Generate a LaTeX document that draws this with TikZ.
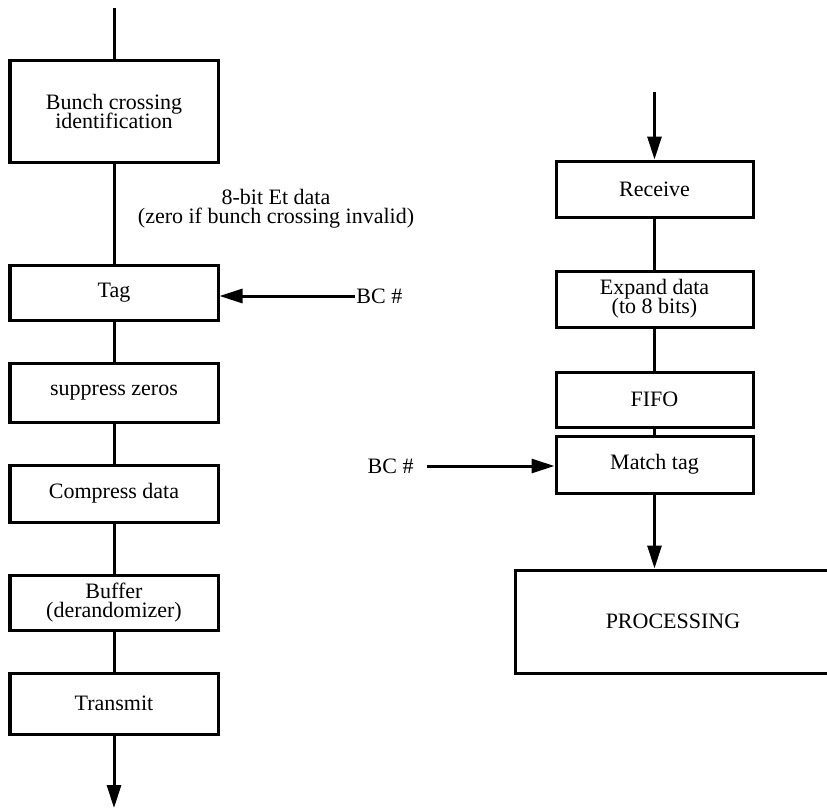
\documentclass[tikz,border=0pt]{standalone}
\usepackage{fontspec}
\setmainfont{Liberation Serif}
\usepackage{tikz}
\usetikzlibrary{arrows.meta,positioning,calc}

\begin{document}
\begin{tikzpicture}[x=0.5pt, y=-0.5pt, line width=1.5pt,
    every node/.style={font=\fontsize{11}{12.5}\selectfont},
    block/.style={draw, line width=1.5pt, align=center, inner sep=2pt},
    lblock/.style={block, minimum width=104pt},
    rblock/.style={block, minimum width=98.5pt},
    >={Triangle[length=11.5pt, width=7pt]}]

    \useasboundingbox (0,0) rectangle (827,810);

    % Transmitter side
    \node[lblock, minimum height=51pt] (bci) at (114,111) {Bunch crossing\\[-3pt]identification};
    \node[lblock, minimum height=27.5pt] (tag) at (114,292.5) {Tag};
    \node[lblock, minimum height=29.5pt] (supz) at (114,392.5) {suppress zeros};
    \node[lblock, minimum height=28.5pt] (comp) at (114,493.5) {Compress data};
    \node[lblock, minimum height=27.5pt] (buf) at (114,602.5) {Buffer\\[-3pt](derandomizer)};
    \node[lblock, minimum height=30.5pt] (trans) at (114,703.5) {Transmit};
    \coordinate (lin) at (114,8);
    \coordinate (lout) at (114,808);
    \node[align=center] (etdata) at (276,209) {8-bit Et data\\[-3pt](zero if bunch crossing invalid)};
    \node[inner sep=0pt, anchor=west] (bcl) at (355,296) {BC \#};

    % Receiver side
    \node[rblock, minimum height=28pt] (rec) at (654.5,189) {Receive};
    \node[rblock, minimum height=28pt] (expd) at (654.5,299) {Expand data\\[-3pt](to 8 bits)};
    \node[rblock, minimum height=27.5pt] (fifo) at (654.5,399.5) {FIFO};
    \node[rblock, minimum height=28.5pt] (match) at (654.5,464.5) {Match tag};
    % box runs off the right edge of the page
    \node[block, minimum width=158pt, minimum height=51.5pt, text width=140pt] (proc) at (673,621.5) {PROCESSING};
    \coordinate (rin) at (654.5,92);
    \node[inner sep=0pt, anchor=east] (bcr) at (415,466) {BC \#};

    % Connections
    \draw (lin) -- (bci);
    \draw (bci) -- (tag);
    \draw (tag) -- (supz);
    \draw (supz) -- (comp);
    \draw (comp) -- (buf);
    \draw (buf) -- (trans);
    \draw[->] (trans) -- (lout);
    \draw[->] (bcl.west) -- (bcl.west -| tag.east);

    \draw[->] (rin) -- (rec);
    \draw (rec) -- (expd);
    \draw (expd) -- (fifo);
    \draw (fifo) -- (match);
    \draw[->] (match) -- (match |- proc.north);
    \draw[->] ([xshift=6pt]bcr.east) -- (bcr.east -| match.west);

\end{tikzpicture}
\end{document}
